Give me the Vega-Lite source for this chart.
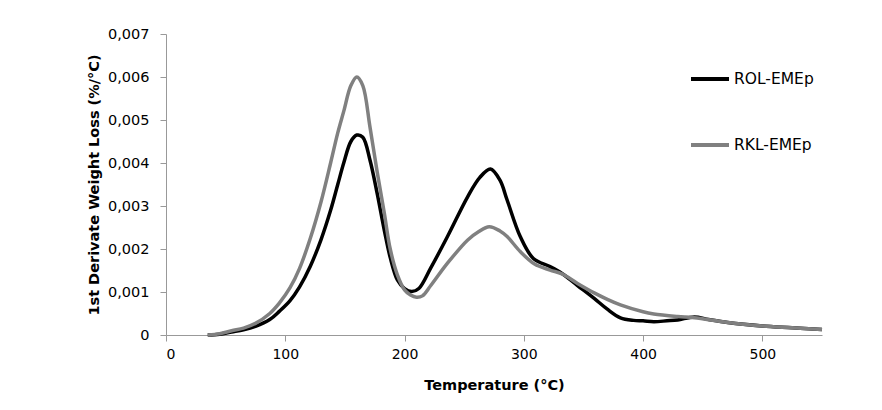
{
  "$schema": "https://vega.github.io/schema/vega-lite/v6.json",
  "width": 656,
  "height": 301,
  "autosize": "none",
  "padding": {"left": 166, "top": 34, "right": 60, "bottom": 75},
  "background": "white",
  "config": {
    "view": {"stroke": null},
    "font": "DejaVu Sans"
  },
  "data": {
    "values": [
      {"s": "ROL-EMEp", "t": 35, "v": 0},
      {"s": "ROL-EMEp", "t": 45, "v": 0.00002},
      {"s": "ROL-EMEp", "t": 55, "v": 0.00007},
      {"s": "ROL-EMEp", "t": 65, "v": 0.00012},
      {"s": "ROL-EMEp", "t": 75, "v": 0.0002},
      {"s": "ROL-EMEp", "t": 87, "v": 0.00036},
      {"s": "ROL-EMEp", "t": 95, "v": 0.00055},
      {"s": "ROL-EMEp", "t": 104, "v": 0.0008},
      {"s": "ROL-EMEp", "t": 112, "v": 0.00112},
      {"s": "ROL-EMEp", "t": 121, "v": 0.0016},
      {"s": "ROL-EMEp", "t": 130, "v": 0.00222},
      {"s": "ROL-EMEp", "t": 138, "v": 0.0029},
      {"s": "ROL-EMEp", "t": 144, "v": 0.0035},
      {"s": "ROL-EMEp", "t": 149, "v": 0.004},
      {"s": "ROL-EMEp", "t": 155, "v": 0.0045},
      {"s": "ROL-EMEp", "t": 160, "v": 0.00465},
      {"s": "ROL-EMEp", "t": 165, "v": 0.0046},
      {"s": "ROL-EMEp", "t": 171, "v": 0.00407},
      {"s": "ROL-EMEp", "t": 177, "v": 0.0033},
      {"s": "ROL-EMEp", "t": 183, "v": 0.00244},
      {"s": "ROL-EMEp", "t": 188, "v": 0.0018},
      {"s": "ROL-EMEp", "t": 194, "v": 0.00128},
      {"s": "ROL-EMEp", "t": 200, "v": 0.00108},
      {"s": "ROL-EMEp", "t": 206, "v": 0.00101},
      {"s": "ROL-EMEp", "t": 212, "v": 0.00108},
      {"s": "ROL-EMEp", "t": 222, "v": 0.00156},
      {"s": "ROL-EMEp", "t": 236, "v": 0.00229},
      {"s": "ROL-EMEp", "t": 253, "v": 0.00322},
      {"s": "ROL-EMEp", "t": 263, "v": 0.00366},
      {"s": "ROL-EMEp", "t": 272, "v": 0.00386},
      {"s": "ROL-EMEp", "t": 280, "v": 0.0036},
      {"s": "ROL-EMEp", "t": 286, "v": 0.00314},
      {"s": "ROL-EMEp", "t": 297, "v": 0.00229},
      {"s": "ROL-EMEp", "t": 308, "v": 0.00178},
      {"s": "ROL-EMEp", "t": 322, "v": 0.00159},
      {"s": "ROL-EMEp", "t": 332, "v": 0.00143},
      {"s": "ROL-EMEp", "t": 345, "v": 0.00115},
      {"s": "ROL-EMEp", "t": 359, "v": 0.00085},
      {"s": "ROL-EMEp", "t": 370, "v": 0.0006},
      {"s": "ROL-EMEp", "t": 381, "v": 0.0004},
      {"s": "ROL-EMEp", "t": 392, "v": 0.00034},
      {"s": "ROL-EMEp", "t": 400, "v": 0.00033},
      {"s": "ROL-EMEp", "t": 409, "v": 0.00031},
      {"s": "ROL-EMEp", "t": 420, "v": 0.00033},
      {"s": "ROL-EMEp", "t": 429, "v": 0.00035},
      {"s": "ROL-EMEp", "t": 443, "v": 0.00042},
      {"s": "ROL-EMEp", "t": 455, "v": 0.00036},
      {"s": "ROL-EMEp", "t": 471, "v": 0.00029},
      {"s": "ROL-EMEp", "t": 500, "v": 0.00021},
      {"s": "ROL-EMEp", "t": 525, "v": 0.00017},
      {"s": "ROL-EMEp", "t": 550, "v": 0.00013},
      {"s": "RKL-EMEp", "t": 35, "v": 0},
      {"s": "RKL-EMEp", "t": 45, "v": 0.00003},
      {"s": "RKL-EMEp", "t": 55, "v": 0.0001},
      {"s": "RKL-EMEp", "t": 65, "v": 0.00016},
      {"s": "RKL-EMEp", "t": 75, "v": 0.00027},
      {"s": "RKL-EMEp", "t": 87, "v": 0.0005},
      {"s": "RKL-EMEp", "t": 95, "v": 0.00074},
      {"s": "RKL-EMEp", "t": 104, "v": 0.0011},
      {"s": "RKL-EMEp", "t": 112, "v": 0.00155},
      {"s": "RKL-EMEp", "t": 121, "v": 0.00225},
      {"s": "RKL-EMEp", "t": 130, "v": 0.0031},
      {"s": "RKL-EMEp", "t": 138, "v": 0.004},
      {"s": "RKL-EMEp", "t": 144, "v": 0.0047},
      {"s": "RKL-EMEp", "t": 149, "v": 0.0052},
      {"s": "RKL-EMEp", "t": 155, "v": 0.0058},
      {"s": "RKL-EMEp", "t": 160, "v": 0.006},
      {"s": "RKL-EMEp", "t": 165, "v": 0.0058},
      {"s": "RKL-EMEp", "t": 171, "v": 0.00484},
      {"s": "RKL-EMEp", "t": 177, "v": 0.0038},
      {"s": "RKL-EMEp", "t": 183, "v": 0.00284},
      {"s": "RKL-EMEp", "t": 188, "v": 0.002},
      {"s": "RKL-EMEp", "t": 194, "v": 0.0014},
      {"s": "RKL-EMEp", "t": 200, "v": 0.00105},
      {"s": "RKL-EMEp", "t": 205, "v": 0.00093},
      {"s": "RKL-EMEp", "t": 210, "v": 0.00088},
      {"s": "RKL-EMEp", "t": 215, "v": 0.00091},
      {"s": "RKL-EMEp", "t": 222, "v": 0.00115},
      {"s": "RKL-EMEp", "t": 236, "v": 0.00167},
      {"s": "RKL-EMEp", "t": 253, "v": 0.00221},
      {"s": "RKL-EMEp", "t": 262, "v": 0.0024},
      {"s": "RKL-EMEp", "t": 271, "v": 0.00252},
      {"s": "RKL-EMEp", "t": 280, "v": 0.00242},
      {"s": "RKL-EMEp", "t": 286, "v": 0.00229},
      {"s": "RKL-EMEp", "t": 297, "v": 0.00194},
      {"s": "RKL-EMEp", "t": 309, "v": 0.00165},
      {"s": "RKL-EMEp", "t": 322, "v": 0.00151},
      {"s": "RKL-EMEp", "t": 332, "v": 0.00142},
      {"s": "RKL-EMEp", "t": 345, "v": 0.0012},
      {"s": "RKL-EMEp", "t": 359, "v": 0.00098},
      {"s": "RKL-EMEp", "t": 370, "v": 0.00083},
      {"s": "RKL-EMEp", "t": 381, "v": 0.0007},
      {"s": "RKL-EMEp", "t": 400, "v": 0.00054},
      {"s": "RKL-EMEp", "t": 409, "v": 0.00049},
      {"s": "RKL-EMEp", "t": 429, "v": 0.00043},
      {"s": "RKL-EMEp", "t": 443, "v": 0.0004},
      {"s": "RKL-EMEp", "t": 471, "v": 0.00029},
      {"s": "RKL-EMEp", "t": 500, "v": 0.00021},
      {"s": "RKL-EMEp", "t": 525, "v": 0.00017},
      {"s": "RKL-EMEp", "t": 550, "v": 0.00013}
    ]
  },
  "mark": {"type": "line", "interpolate": "catmull-rom", "strokeWidth": 3.5},
  "encoding": {
    "x": {
      "field": "t", "type": "quantitative",
      "scale": {"domain": [0, 550], "nice": false},
      "axis": {
        "title": "Temperature (°C)",
        "values": [0, 100, 200, 300, 400, 500],
        "grid": false,
        "domainColor": "#999999", "tickColor": "#999999",
        "tickSize": 6, "labelPadding": 6,
        "labelFont": "DejaVu Sans", "labelFontSize": 14, "labelColor": "#000000",
        "titleFont": "DejaVu Sans", "titleFontSize": 14.5, "titleFontWeight": "bold", "titleColor": "#000000",
        "titlePadding": 17
      }
    },
    "y": {
      "field": "v", "type": "quantitative",
      "scale": {"domain": [0, 0.007], "nice": false},
      "axis": {
        "title": "1st Derivate Weight Loss (%/°C)",
        "values": [0, 0.001, 0.002, 0.003, 0.004, 0.005, 0.006, 0.007],
        "labelExpr": "datum.value == 0 ? '0' : replace(format(datum.value, '.3f'), '.', ',')",
        "grid": false,
        "domainColor": "#999999", "tickColor": "#999999",
        "tickSize": 6, "labelPadding": 11,
        "labelFont": "DejaVu Sans", "labelFontSize": 14.5, "labelColor": "#000000",
        "titleFont": "DejaVu Sans", "titleFontSize": 14.5, "titleFontWeight": "bold", "titleColor": "#000000",
        "titlePadding": 6
      }
    },
    "color": {
      "field": "s", "type": "nominal",
      "scale": {"domain": ["ROL-EMEp", "RKL-EMEp"], "range": ["#000000", "#808080"]},
      "legend": {
        "title": null,
        "orient": "none",
        "legendX": 523,
        "legendY": 24,
        "symbolType": "stroke",
        "symbolSize": 1444,
        "symbolStrokeWidth": 4,
        "labelFont": "DejaVu Sans",
        "labelFontSize": 15.5,
        "labelColor": "#000000",
        "labelOffset": 3,
        "rowPadding": 36
      }
    }
  }
}
